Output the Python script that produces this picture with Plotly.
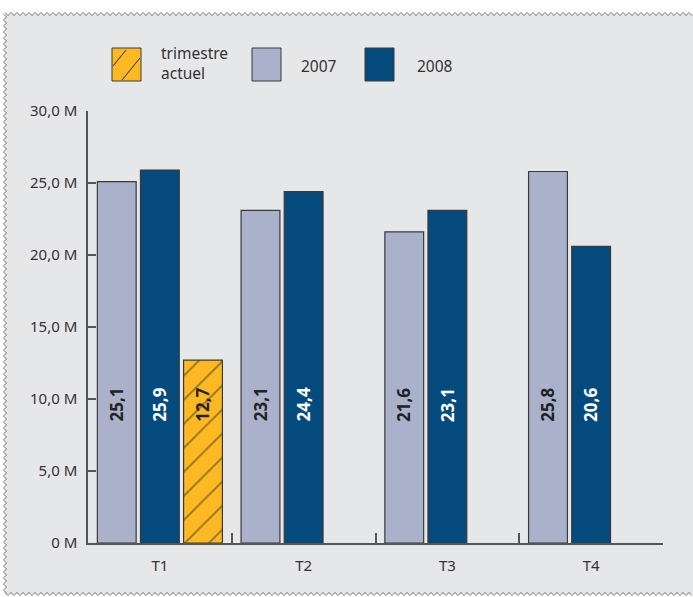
import plotly.graph_objects as go

categories = ["T1", "T2", "T3", "T4"]
values_2007 = [25.1, 23.1, 21.6, 25.8]
values_2008 = [25.9, 24.4, 23.1, 20.6]
values_current = [12.7, None, None, None]
y_tick_vals = [0, 5, 10, 15, 20, 25, 30]
y_tick_text = ["0 M", "5,0 M", "10,0 M", "15,0 M", "20,0 M", "25,0 M", "30,0 M"]
label_y = 9.6

W, H = 693, 597
L, R, T, B = 88, 30, 111, 54
pw, ph = W - L - R, H - T - B

def px(x):
    return (x - L) / pw

def py(y):
    return (H - B - y) / ph

C2007 = "#aab1cb"
C2008 = "#054a7c"
CCUR = "#fdb924"
EDGE = "#3a3a3a"
BG = "#e6e7e9"
FONT = "Noto Sans"

fig = go.Figure()
fig.add_trace(go.Bar(x=categories, y=values_2007, name="2007", marker=dict(color=C2007, line=dict(color=EDGE, width=1.2))))
fig.add_trace(go.Bar(x=categories, y=values_2008, name="2008", marker=dict(color=C2008, line=dict(color=EDGE, width=1.2))))
fig.add_trace(go.Bar(x=categories, y=values_current, name="trimestre actuel",
                     marker=dict(color=CCUR, line=dict(color=EDGE, width=1.2),
                                 pattern=dict(shape="/", fgcolor="#222", bgcolor=CCUR, size=17, solidity=0.1))))

annotations = []
for i, c in enumerate(categories):
    for off, vals, col in ((-1, values_2007, "#222"), (0, values_2008, "white"), (1, values_current, "#222")):
        v = vals[i]
        if v is None:
            continue
        annotations.append(dict(x=i + off * 0.3, y=label_y, xref="x", yref="y",
                                text=f"{v:.1f}".replace(".", ","), textangle=-90,
                                showarrow=False, font=dict(size=17, color=col, family=FONT, weight="bold")))

legend_items = [(112, CCUR, True), (252, C2007, False), (365, C2008, False)]
shapes = []
shapes.append(dict(type="rect", xref="paper", yref="paper", x0=px(5), x1=px(700), y0=py(594), y1=py(14),
                   fillcolor=BG, line=dict(width=0), layer="below"))

def zig_h(x0, x1, y, amp=1.6, step=3.0):
    pts = []
    x = x0; k = 0
    while x <= x1:
        pts.append((x, y + (amp if k % 2 else -amp)))
        x += step; k += 1
    return pts

def zig_v(y0, y1, x, amp=1.6, step=3.0):
    pts = []
    y = y0; k = 0
    while y <= y1:
        pts.append((x + (amp if k % 2 else -amp), y))
        y += step; k += 1
    return pts

for pts in (zig_h(5, 693, 14), zig_h(5, 693, 594), zig_v(14, 594, 5)):
    path = "M " + " L ".join(f"{px(a):.5f},{py(b):.5f}" for a, b in pts)
    shapes.append(dict(type="path", xref="paper", yref="paper", path=path,
                       line=dict(color="#777", width=1), layer="below"))

for x0, col, hatch in legend_items:
    shapes.append(dict(type="rect", xref="paper", yref="paper", x0=px(x0), x1=px(x0 + 29),
                       y0=py(81), y1=py(48), fillcolor=col, line=dict(color=EDGE, width=1)))
    if hatch:
        for (a, b, c, d) in ((x0 + 1, 66, x0 + 14, 50), (x0 + 10, 80, x0 + 28, 58)):
            shapes.append(dict(type="line", xref="paper", yref="paper", x0=px(a), y0=py(b), x1=px(c), y1=py(d),
                               line=dict(color="#2a2a2a", width=1)))

annotations += [
    dict(x=px(159), y=py(63), xref="paper", yref="paper", text="trimestre<br>actuel", showarrow=False,
         xanchor="left", yanchor="middle", align="left", font=dict(size=15.5, color="#333", family=FONT)),
    dict(x=px(299), y=py(66), xref="paper", yref="paper", text="2007", showarrow=False,
         xanchor="left", yanchor="middle", font=dict(size=15.5, color="#333", family=FONT)),
    dict(x=px(415), y=py(66), xref="paper", yref="paper", text="2008", showarrow=False,
         xanchor="left", yanchor="middle", font=dict(size=15.5, color="#333", family=FONT)),
]

fig.update_layout(
    width=W, height=H,
    margin=dict(l=L, r=R, t=T, b=B, autoexpand=False),
    paper_bgcolor="white", plot_bgcolor="rgba(0,0,0,0)",
    barmode="group", bargap=0.1, bargroupgap=0.1,
    showlegend=False,
    font=dict(family=FONT, color="#333", size=15),
    shapes=shapes, annotations=annotations,
)
fig.update_xaxes(type="category", range=[-0.5, 3.5], showline=True, linecolor="#555", linewidth=1.5,
                 ticks="inside", tickson="boundaries", ticklen=10, tickcolor="#555", tickwidth=1.5,
                 showgrid=False, zeroline=False, ticklabelstandoff=8, tickfont=dict(size=15, color="#333"))
fig.update_yaxes(range=[0, 30], tickvals=y_tick_vals, ticktext=y_tick_text, showline=True, linecolor="#555",
                 linewidth=1.5, ticks="inside", ticklen=8, tickcolor="#555", tickwidth=1.5,
                 showgrid=False, zeroline=False, ticklabelstandoff=6, tickfont=dict(size=15, color="#333"))

fig.write_html("out.html", config={"displayModeBar": False},
               post_script="document.body.style.margin='0';document.body.style.overflow='hidden';")
